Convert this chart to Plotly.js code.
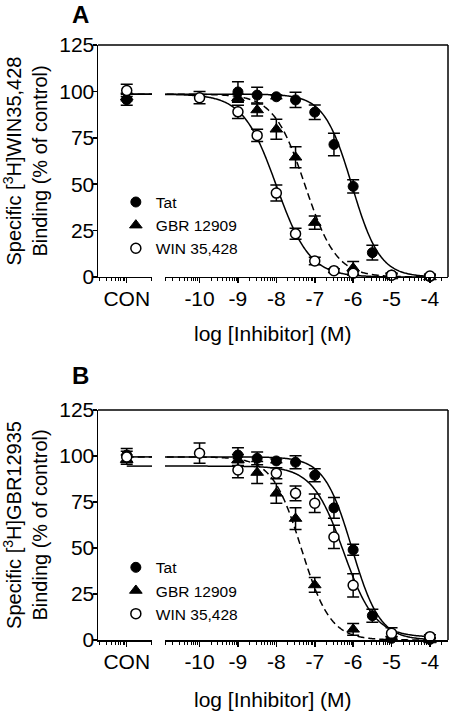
<!DOCTYPE html>
<html><head><meta charset="utf-8">
<script src="https://cdn.plot.ly/plotly-3.0.1.min.js"></script>
<style>html,body{margin:0;padding:0;background:#fff}#chart{width:450px;height:712px}</style>
</head><body><div id="chart"></div>
<script>
// ---------- axis labels ----------
const conLabel = 'CON';
const conPos = -12;
const mainTickVals = [-10, -9, -8, -7, -6, -5, -4];
const mainTickText = ['-10', '-9', '-8', '-7', '-6', '-5', '-4'];
const yTickVals = [0, 25, 50, 75, 100, 125];
const seriesNames = ['Tat', 'GBR 12909', 'WIN 35,428'];

// ---------- Panel A : [3H]WIN35,428 binding ----------
const aTatX = [-9, -8.5, -8, -7.5, -7, -6.5, -6, -5.5, -5, -4];
const aTatY = [99.7, 98, 97.1, 95.4, 88.8, 71.4, 48.8, 13.1, 1, 0.3];
const aTatErr = [5.5, 4.3, 1, 4.1, 3.9, 6.1, 3.6, 4, 1, 1];
const aTatCon = [95.5], aTatConErr = [3];
const aGbrX = [-9, -8.5, -8, -7.5, -7, -6, -5, -4];
const aGbrY = [96.5, 90, 79.6, 64.5, 29.3, 4.8, 0.5, 0];
const aGbrErr = [2, 3.2, 5.4, 5.7, 3.6, 3.5, 1, 1];
const aGbrCon = [97], aGbrConErr = [2];
const aWinX = [-10, -9, -8.5, -8, -7.5, -7, -6.5, -6, -5, -4];
const aWinY = [96.6, 89, 76.3, 45.2, 23.3, 8.6, 3.4, 2, 1, 0.5];
const aWinErr = [3.3, 3.6, 3.3, 4.3, 3, 2, 1, 1, 1, 1];
const aWinCon = [100.5], aWinConErr = [3.3];
// fitted curve parameters [top, bottom, logIC50, hill]
const aTatFit = [98.5, 0, -6.03, 1.2];
const aGbrFit = [98.5, 0, -7.25, 1.07];
const aWinFit = [98.5, 0, -8.0, 1.0];

// ---------- Panel B : [3H]GBR12935 binding ----------
const bTatX = [-9, -8.5, -8, -7.5, -7, -6.5, -6, -5.5, -5, -4];
const bTatY = [100.5, 98.7, 97.3, 96.6, 89.5, 71.8, 49, 13.2, 0.9, 0.3];
const bTatErr = [4, 3.5, 1, 3.5, 3.5, 5.7, 3, 3.5, 1, 1];
const bTatCon = [100.5], bTatConErr = [3.5];
const bGbrX = [-9, -8.5, -8, -7.5, -7, -6, -5, -4];
const bGbrY = [97.8, 91, 79.7, 66, 29.9, 5.8, 0.8, 0];
const bGbrErr = [3, 6, 5.4, 5.9, 4, 3.2, 1, 1];
const bGbrCon = [98], bGbrConErr = [2.5];
const bWinX = [-10, -9, -8, -7.5, -7, -6.5, -6, -5, -4];
const bWinY = [101.5, 92.4, 90.6, 79.7, 74.3, 56, 29.7, 3.6, 1.8];
const bWinErr = [5.5, 4.3, 3, 4, 5, 6.3, 6.3, 3, 1];
const bWinCon = [99.5], bWinConErr = [3];
const bTatFit = [99.5, 0, -6.03, 1.2];
const bGbrFit = [99.5, 0, -7.35, 1.15];
const bWinFit = [94.5, 1.5, -6.25, 1.07];

// ---------- helpers ----------
const FONT = 'Liberation Sans, Arial, Helvetica, sans-serif';
const markerStyle = [
  {symbol: 'circle', size: 10, color: 'black', line: {color: 'black', width: 1}},
  {symbol: 'triangle-up', size: 11, color: 'black', line: {color: 'black', width: 1}},
  {symbol: 'circle', size: 10, color: 'white', line: {color: 'black', width: 1.5}}
];
const curveDash = ['solid', '7px,4px', 'solid'];
const conRange = [-12.75, -11.34];
const mainRange = [-10.9, -3.53];

function logistic(p, x) {
  return p[1] + (p[0] - p[1]) / (1 + Math.pow(10, (x - p[2]) * p[3]));
}
const curveX = [];
for (let i = 0; i <= 400; i++) curveX.push(-12 + i * 0.02);
const curveXCon = curveX.filter(x => x <= conRange[1] + 0.05);

function errOpts(arr) {
  return {type: 'data', array: arr, visible: true, color: 'black', thickness: 1.5, width: 6};
}

function panelTraces(xCon, xMain, yAx, legendId, series) {
  const out = [];
  series.forEach((s, k) => {
    [[xCon, curveXCon], [xMain, curveX]].forEach(([xa, xs]) => out.push({
      type: 'scatter', mode: 'lines', x: xs, y: xs.map(x => logistic(s.fit, x)), xaxis: xa, yaxis: yAx,
      line: {color: 'black', width: 1.5, dash: curveDash[k], simplify: false}, showlegend: false, hoverinfo: 'skip'
    }));
  });
  series.forEach((s, k) => {
    out.push({
      type: 'scatter', mode: 'markers', x: [conPos], y: s.con, xaxis: xCon, yaxis: yAx,
      error_y: errOpts(s.conErr), marker: markerStyle[k], cliponaxis: false, showlegend: false
    });
  });
  series.forEach((s, k) => {
    out.push({
      type: 'scatter', mode: 'markers', name: seriesNames[k], x: s.x, y: s.y, xaxis: xMain, yaxis: yAx,
      error_y: errOpts(s.err), marker: markerStyle[k], cliponaxis: false, legend: legendId
    });
  });
  return out;
}

const traces = [].concat(
  panelTraces('x', 'x2', 'y', 'legend', [
    {x: aTatX, y: aTatY, err: aTatErr, con: aTatCon, conErr: aTatConErr, fit: aTatFit},
    {x: aGbrX, y: aGbrY, err: aGbrErr, con: aGbrCon, conErr: aGbrConErr, fit: aGbrFit},
    {x: aWinX, y: aWinY, err: aWinErr, con: aWinCon, conErr: aWinConErr, fit: aWinFit}
  ]),
  panelTraces('x3', 'x4', 'y2', 'legend2', [
    {x: bTatX, y: bTatY, err: bTatErr, con: bTatCon, conErr: bTatConErr, fit: bTatFit},
    {x: bGbrX, y: bGbrY, err: bGbrErr, con: bGbrCon, conErr: bGbrConErr, fit: bGbrFit},
    {x: bWinX, y: bWinY, err: bWinErr, con: bWinCon, conErr: bWinConErr, fit: bWinFit}
  ])
);

// minor (log-spaced) ticks
function minorTicks(lo, hi) {
  const v = [];
  for (let d = Math.floor(lo) - 1; d <= Math.ceil(hi); d++) {
    for (let k = 2; k <= 9; k++) {
      const t = d + Math.log10(k);
      if (t > lo && t < hi) v.push(t);
    }
  }
  return v;
}

const tickFont = {family: FONT, size: 21, color: 'black'};
function conAxis(anchor) {
  return {
    domain: [0, 0.1543], range: conRange, anchor: anchor, showgrid: false, zeroline: false,
    showline: true, linecolor: 'black', linewidth: 1.5,
    tickmode: 'array', tickvals: [conPos], ticktext: [conLabel],
    ticks: 'outside', ticklen: 5, tickwidth: 1.5, tickcolor: 'black', tickfont: tickFont, ticklabelstandoff: -3,
    minor: {tickmode: 'array', tickvals: minorTicks(conRange[0], conPos).concat([conRange[1] - 0.01]), ticks: 'outside', ticklen: 3, tickwidth: 1, tickcolor: 'black'},
    fixedrange: true
  };
}
function mainAxis(anchor) {
  return {
    domain: [0.1914, 1], range: mainRange, anchor: anchor, showgrid: false, zeroline: false,
    showline: true, linecolor: 'black', linewidth: 1.5,
    tickmode: 'array', tickvals: mainTickVals, ticktext: mainTickText,
    ticks: 'outside', ticklen: 5, tickwidth: 1.5, tickcolor: 'black', tickfont: tickFont, ticklabelstandoff: -3,
    minor: {tickmode: 'array', tickvals: [mainRange[0] + 0.01].concat(minorTicks(mainRange[0], mainRange[1])), ticks: 'outside', ticklen: 3, tickwidth: 1, tickcolor: 'black'},
    fixedrange: true
  };
}
function yAxis(domain, anchor, titleText) {
  return {
    domain: domain, range: [0, 125], anchor: anchor, showgrid: false, zeroline: false,
    showline: true, linecolor: 'black', linewidth: 1.5,
    tickmode: 'array', tickvals: yTickVals, ticks: 'outside', ticklen: 4, tickwidth: 1.5, tickcolor: 'black',
    tickfont: tickFont, ticklabelstandoff: -6, fixedrange: true,
    title: {text: titleText, font: {family: FONT, size: 20, color: 'black'}, standoff: 8}
  };
}
const legendBase = {
  font: {family: FONT, size: 15.5, color: 'black'}, bgcolor: 'rgba(0,0,0,0)',
  xanchor: 'left', yanchor: 'top', tracegroupgap: 0, borderwidth: 0
};

const layout = {
  width: 450, height: 712, paper_bgcolor: 'white', plot_bgcolor: 'white',
  margin: {l: 98, r: 2, t: 45, b: 72},
  font: {family: FONT, color: 'black'},
  xaxis: conAxis('y'), xaxis2: mainAxis('y'),
  xaxis3: conAxis('y2'), xaxis4: mainAxis('y2'),
  yaxis: yAxis([0.6101, 1], 'x', 'Specific [<sup>3</sup>H]WIN35,428<br>Binding (% of control)'),
  yaxis2: yAxis([0, 0.3866], 'x3', 'Specific [<sup>3</sup>H]GBR12935<br>Binding (% of control)'),
  legend: Object.assign({x: 0.051, y: 0.764}, legendBase),
  legend2: Object.assign({x: 0.051, y: 0.150}, legendBase),
  shapes: [
    {type: 'line', xref: 'paper', yref: 'paper', x0: 0, x1: 1, y0: 1, y1: 1, line: {color: 'black', width: 1.5}},
    {type: 'line', xref: 'paper', yref: 'paper', x0: 1, x1: 1, y0: 0.6101, y1: 1, line: {color: 'black', width: 1.5}},
    {type: 'line', xref: 'paper', yref: 'paper', x0: 0, x1: 1, y0: 0.3866, y1: 0.3866, line: {color: 'black', width: 1.5}},
    {type: 'line', xref: 'paper', yref: 'paper', x0: 1, x1: 1, y0: 0, y1: 0.3866, line: {color: 'black', width: 1.5}}
  ],
  annotations: [
    {text: '<b>A</b>', xref: 'paper', yref: 'paper', x: -0.0486, y: 1.0513, xanchor: 'center', yanchor: 'middle', showarrow: false, font: {family: FONT, size: 24, color: 'black'}},
    {text: '<b>B</b>', xref: 'paper', yref: 'paper', x: -0.05, y: 0.4437, xanchor: 'center', yanchor: 'middle', showarrow: false, font: {family: FONT, size: 24, color: 'black'}},
    {text: 'log [Inhibitor] (M)', xref: 'paper', yref: 'paper', x: 0.5, y: 0.5143, xanchor: 'center', yanchor: 'middle', showarrow: false, font: {family: FONT, size: 21, color: 'black'}},
    {text: 'log [Inhibitor] (M)', xref: 'paper', yref: 'paper', x: 0.5, y: -0.1008, xanchor: 'center', yanchor: 'middle', showarrow: false, font: {family: FONT, size: 21, color: 'black'}}
  ],
  showlegend: true
};

Plotly.newPlot('chart', traces, layout, {staticPlot: true, displayModeBar: false});
</script>
</body></html>
